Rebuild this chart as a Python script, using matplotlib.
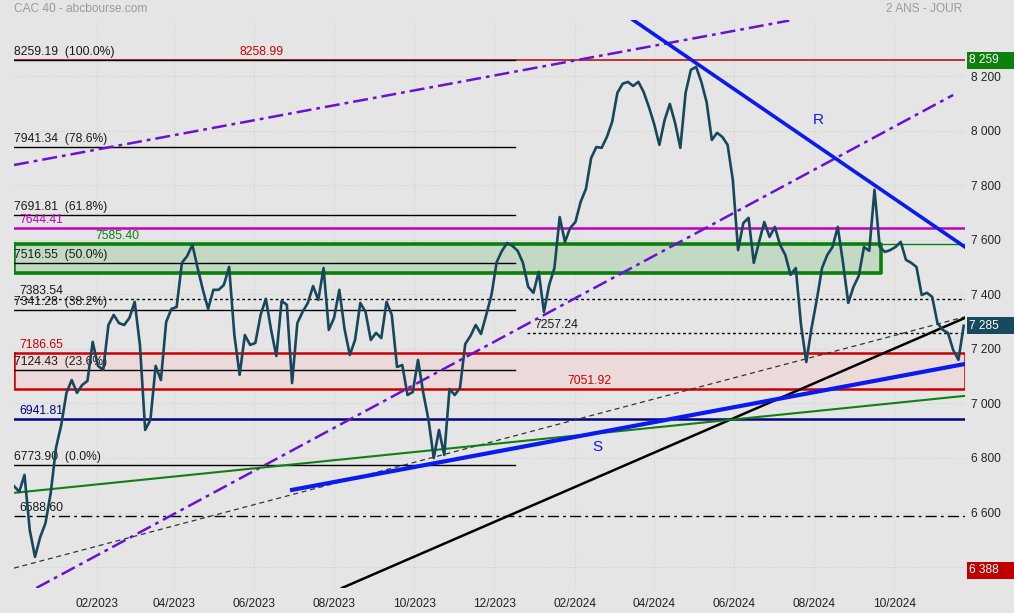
import matplotlib
matplotlib.use("Agg")
import matplotlib.pyplot as plt
import matplotlib.dates as mdates
import matplotlib.transforms as mtransforms
from matplotlib.patches import Rectangle
from matplotlib.ticker import FuncFormatter, FixedLocator
import pandas as pd

plt.rcParams['font.family'] = ['Liberation Sans', 'DejaVu Sans']

# CAC 40 closes, one reading every 4 days
closes = [
    6697, 6676, 6738, 6536, 6437, 6510, 6561, 6672, 6837, 6921,
    7039, 7086, 7039, 7068, 7083, 7226, 7138, 7123, 7288, 7325,
    7295, 7288, 7314, 7373, 7215, 6903, 6940, 7138, 7086, 7299,
    7347, 7354, 7516, 7541, 7582, 7497, 7417, 7347, 7417, 7417,
    7435, 7501, 7251, 7105, 7251, 7215, 7222, 7325, 7384, 7270,
    7174, 7376, 7362, 7075, 7295, 7336, 7369, 7431, 7380, 7497,
    7270, 7314, 7417, 7273, 7178, 7233, 7369, 7336, 7233, 7259,
    7240, 7373, 7325, 7134, 7141, 7031, 7042, 7160, 7039, 6940,
    6800, 6903, 6811, 7053, 7031, 7057, 7218, 7248, 7288, 7255,
    7325, 7398, 7519, 7560, 7589, 7578, 7560, 7516, 7428, 7406,
    7483, 7336, 7435, 7497, 7684, 7593, 7644, 7666, 7740, 7787,
    7901, 7941, 7938, 7978, 8033, 8140, 8173, 8180, 8165, 8180,
    8143, 8088, 8026, 7949, 8040, 8099, 8029, 7938, 8140, 8224,
    8235, 8180, 8106, 7967, 7993, 7978, 7949, 7820, 7563, 7662,
    7681, 7516, 7593, 7666, 7611, 7648, 7582, 7545, 7472, 7497,
    7288, 7152, 7277, 7380, 7497, 7545, 7574, 7648, 7516, 7369,
    7428, 7468, 7574, 7560, 7784, 7574, 7556, 7563, 7574, 7593,
    7527, 7516, 7501, 7398, 7406, 7391, 7295, 7270, 7259, 7196,
    7160, 7285,
]
dates = pd.date_range("2022-11-30", periods=len(closes), freq="4D")

y_ticks = [6400, 6600, 6800, 7000, 7200, 7400, 7600, 7800, 8000, 8200]
x_ticks = pd.date_range("2023-02-01", "2024-10-01", freq="2MS")

# Fibonacci retracement levels
fib_levels = [8259.19, 7941.34, 7691.81, 7516.55, 7341.28, 7124.43, 6773.90]
fib_pcts = ["100.0%", "78.6%", "61.8%", "50.0%", "38.2%", "23.6%", "0.0%"]
fib_end = "2023-12-17"

high_level = 8258.99
magenta_level = 7644.41
green_top, green_bottom, green_end = 7585.40, 7480.0, "2024-09-21"
red_top, red_bottom = 7186.65, 7051.92
navy_level = 6941.81
dotted_level = 7383.54
low_level, low_start = 7257.24, "2023-12-26"
dashdot_level = 6588.60

# trend lines: (start date, start value, end date, end value)
upper_channel = ("2022-11-30", 7875, "2024-07-13", 8405)
lower_channel = ("2022-12-17", 6323, "2024-11-15", 8132)
dashed_trend = ("2022-11-30", 6396, "2024-11-24", 7318)
black_trend = ("2023-08-07", 6323, "2024-11-24", 7314)
green_trend = ("2022-11-30", 6672, "2024-11-24", 7028)
support_s = ("2023-06-30", 6683, "2024-11-24", 7145)
resist_r = ("2024-03-16", 8407, "2024-11-24", 7574)

last_close, period_high, period_low = 7285, 8259, 6388

bg = '#e5e5e5'
fig = plt.figure(figsize=(10.14, 6.13), dpi=100, facecolor=bg)
ax = fig.add_axes([14/1014, 25/613, 951/1014, 568/613], facecolor=bg)
x0, x1 = pd.Timestamp("2022-11-30"), pd.Timestamp("2024-11-24")
ax.set_xlim(x0, x1)
ax.set_ylim(6323, 8407)
for s in ax.spines.values():
    s.set_visible(False)

ax.grid(True, color='#d2d2d2', linestyle=':', linewidth=0.8)
ax.set_axisbelow(True)
ax.set_xticks(x_ticks)
ax.xaxis.set_major_formatter(mdates.DateFormatter('%m/%Y'))
ax.yaxis.set_major_locator(FixedLocator(y_ticks))
ax.yaxis.set_major_formatter(FuncFormatter(lambda v, p: f"{v:,.0f}".replace(",", " ")))
ax.yaxis.tick_right()
ax.tick_params(axis='both', length=0, labelsize=8.6, colors='#222222')
ax.tick_params(axis='y', pad=4)
ax.tick_params(axis='x', pad=7)

lab_off = mtransforms.offset_copy(ax.transData, fig=fig, x=0, y=2, units='dots')
bl = mtransforms.blended_transform_factory(ax.transAxes, ax.transData)
bl_off = mtransforms.offset_copy(bl, fig=fig, x=0, y=2, units='dots')
fs = 8.7

# zones
ax.fill_between([x0, x1], red_bottom, red_top, color='#ecdada', zorder=1)
ax.plot([x0, x1, x1, x0, x0], [red_top, red_top, red_bottom, red_bottom, red_top],
        color='#cc0000', lw=1.8, zorder=2)
ge = pd.Timestamp(green_end)
ax.fill_between([x0, ge], green_bottom, green_top, color='#c4d9c4', zorder=1)
ax.plot([x0, ge, ge, x0, x0], [green_top, green_top, green_bottom, green_bottom, green_top],
        color='#0a800a', lw=2.6, zorder=2)
ax.plot([ge, x1], [green_top, green_top], color='#0a800a', lw=1, zorder=2)

# horizontal levels
ax.plot([x0, x1], [high_level, high_level], color='#bb0000', lw=1.1, zorder=2)
ax.plot([x0, x1], [magenta_level, magenta_level], color='#c000c0', lw=1.8, zorder=2)
ax.plot([x0, x1], [navy_level, navy_level], color='#000080', lw=1.8, zorder=2)
ax.plot([x0, x1], [dotted_level, dotted_level], color='black', lw=1, ls=(0, (2, 2)), zorder=2)
ax.plot([pd.Timestamp(low_start), x1], [low_level, low_level], color='black', lw=1,
        ls=(0, (2, 2)), zorder=2)
ax.plot([x0, x1], [dashdot_level, dashdot_level], color='black', lw=1,
        ls=(0, (8, 3, 2, 3)), zorder=2)
for lv, pct in zip(fib_levels, fib_pcts):
    ax.plot([x0, pd.Timestamp(fib_end)], [lv, lv], color='black', lw=1, zorder=3)
    ax.text(0.0005, lv, f"{lv:.2f}  ({pct})", transform=bl_off, fontsize=fs,
            color='#1a1a1a', va='bottom', ha='left', zorder=6)

# level labels
ax.text(0.006, magenta_level, f"{magenta_level:.2f}", transform=bl_off, fontsize=fs,
        color='#c000c0', va='bottom')
ax.text(0.006, dotted_level, f"{dotted_level:.2f}", transform=bl_off, fontsize=fs,
        color='#1a1a1a', va='bottom')
ax.text(0.006, red_top, f"{red_top:.2f}", transform=bl_off, fontsize=fs,
        color='#cc0000', va='bottom')
ax.text(0.006, navy_level, f"{navy_level:.2f}", transform=bl_off, fontsize=fs,
        color='#000080', va='bottom')
ax.text(0.006, dashdot_level, f"{dashdot_level:.2f}", transform=bl_off, fontsize=fs,
        color='#1a1a1a', va='bottom')
ax.text(pd.Timestamp("2023-05-21"), high_level, f"{high_level:.2f}", transform=lab_off,
        fontsize=fs, color='#cc0000', va='bottom')
ax.text(pd.Timestamp("2023-01-31"), green_top, f"{green_top:.2f}", transform=lab_off,
        fontsize=fs, color='#0a800a', va='bottom')
ax.text(pd.Timestamp("2024-01-01"), low_level, f"{low_level:.2f}", transform=lab_off,
        fontsize=fs, color='#1a1a1a', va='bottom')
ax.text(pd.Timestamp("2024-01-26"), red_bottom, f"{red_bottom:.2f}", transform=lab_off,
        fontsize=fs, color='#cc0000', va='bottom')

# trend lines
def trend(t, **kw):
    ax.plot([pd.Timestamp(t[0]), pd.Timestamp(t[2])], [t[1], t[3]], **kw)

trend(upper_channel, color='#6a12d4', lw=1.8, ls=(0, (6, 2, 1.5, 2)), zorder=4)
trend(lower_channel, color='#6a12d4', lw=1.8, ls=(0, (6, 2, 1.5, 2)), zorder=4)
trend(dashed_trend, color='#333333', lw=0.9, ls=(0, (4, 3)), zorder=4)
trend(black_trend, color='black', lw=1.8, zorder=4)
trend(green_trend, color='#108010', lw=1.5, zorder=4)
trend(support_s, color='#0a1af0', lw=3, zorder=5)
trend(resist_r, color='#0a1af0', lw=2.6, zorder=5)
ax.text(pd.Timestamp("2024-02-18"), 6840, "S", color='#0a1af0', fontsize=11,
        ha='center', va='center')
ax.text(pd.Timestamp("2024-08-04"), 8040, "R", color='#0a1af0', fontsize=11,
        ha='center', va='center')

# price
ax.plot(dates, closes, color='#17475c', lw=1.9, zorder=6, solid_joinstyle='round')

# right value boxes
bl_fig = mtransforms.blended_transform_factory(fig.transFigure, ax.transData)
box_h = 17 / 613 * (ax.get_ylim()[1] - ax.get_ylim()[0]) / (568 / 613)
for val, col in [(period_high, '#0d800d'), (last_close, '#174a5f'), (period_low, '#c00000')]:
    fig.patches.append(Rectangle((967/1014, val - box_h/2), 47/1014, box_h,
                                 transform=bl_fig, facecolor=col, edgecolor='none',
                                 zorder=9))
    fig.text(969/1014, val, f"{val:,.0f}".replace(",", " "), transform=bl_fig,
             fontsize=8.6, color='white', va='center', ha='left', zorder=10)

fig.text(14/1014, 1 - 9/613, "CAC 40 - abcbourse.com", color='#9a9a9a', fontsize=8.6,
         va='center', ha='left')
fig.text(962/1014, 1 - 9/613, "2 ANS - JOUR", color='#9a9a9a', fontsize=8.6,
         va='center', ha='right')

fig.savefig("out.png", dpi=100, facecolor=bg)
